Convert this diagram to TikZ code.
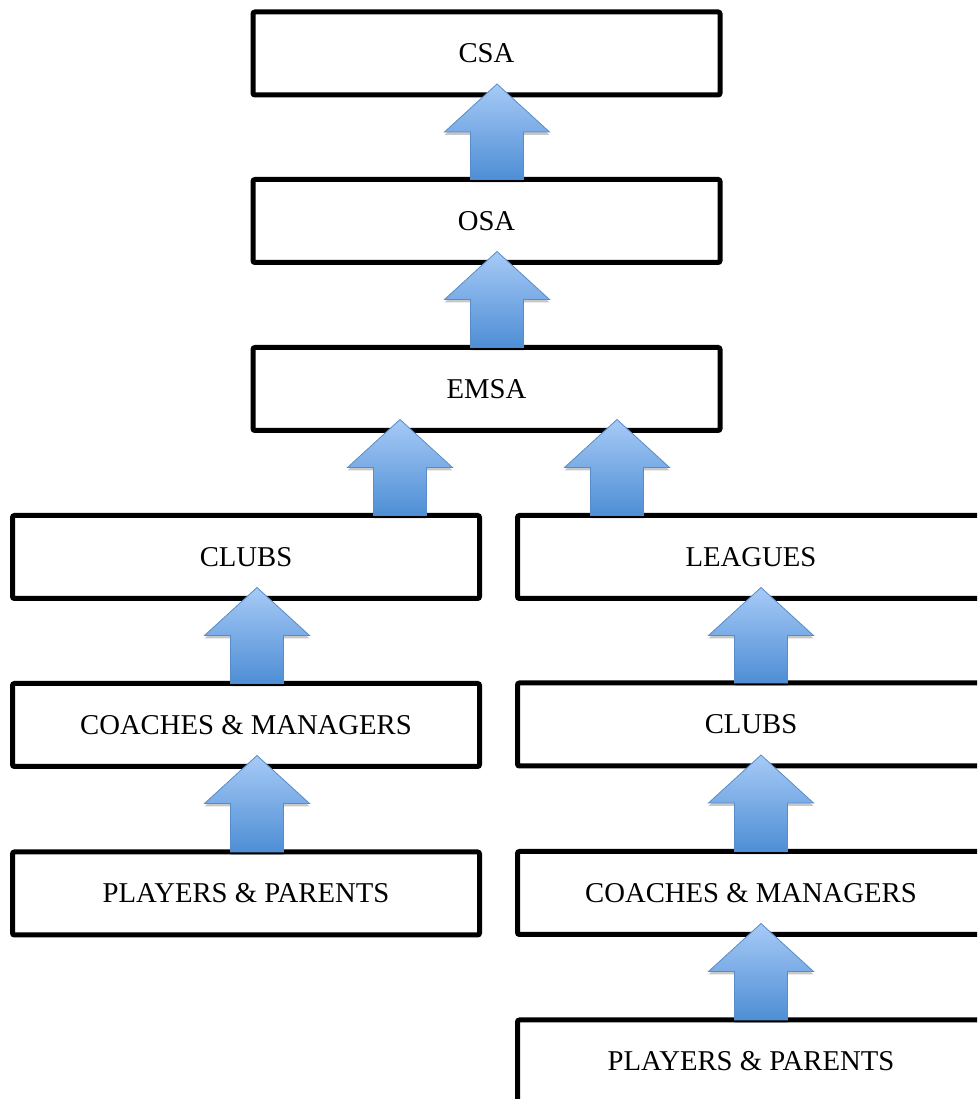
\documentclass[tikz,border=0pt]{standalone}
\usepackage{fontspec}
\setmainfont{Liberation Serif}
\usetikzlibrary{calc,shadows}
\definecolor{arrtop}{RGB}{166,202,246}
\definecolor{arrbot}{RGB}{78,142,213}
\definecolor{arredge}{RGB}{88,140,200}
\tikzset{
  box/.style={draw=black, line width=5pt, rounded corners=2pt, fill=white,
    minimum width=467pt, minimum height=83pt, inner sep=0pt, outer sep=0pt,
    font=\fontsize{28.7}{34}\selectfont},
  uparr/.style={draw=arredge, line width=0.8pt, top color=arrtop, bottom color=arrbot,
    drop shadow={shadow xshift=0pt, shadow yshift=-3pt, opacity=0.22, fill=black}},
}
% #1 lower node, #2 upper node, #3 x position (pt)
\newcommand\blockarrow[3]{%
  \path[uparr] let \p1=(#1.north), \p2=(#2.south) in
    (#3pt-26.5pt,\y1) -- (#3pt-26.5pt,\y2+11pt-48pt) -- (#3pt-52.5pt,\y2+11pt-48pt)
    -- (#3pt,\y2+11pt) -- (#3pt+52.5pt,\y2+11pt-48pt) -- (#3pt+26.5pt,\y2+11pt-48pt)
    -- (#3pt+26.5pt,\y1) -- cycle;}
\begin{document}
\begin{tikzpicture}[x=1pt,y=1pt]
\useasboundingbox (0,0) rectangle (977,1099);
\clip (0,0) rectangle (977,1099);
\node[box] (csa) at (486.5,1045.5) {CSA};
\node[box] (osa) at (486.5,878) {OSA};
\node[box] (emsa) at (486.5,710) {EMSA};
\node[box] (lclubs) at (246,542) {CLUBS};
\node[box] (lcoach) at (246,374) {COACHES \& MANAGERS};
\node[box] (lplay) at (246,205.5) {PLAYERS \& PARENTS};
\node[box] (leagues) at (751,542) {LEAGUES};
\node[box] (rclubs) at (751,374.5) {CLUBS};
\node[box] (rcoach) at (751,206) {COACHES \& MANAGERS};
\node[box] (rplay) at (751,37.5) {PLAYERS \& PARENTS};
\blockarrow{osa}{csa}{497}
\blockarrow{emsa}{osa}{497}
\blockarrow{lclubs}{emsa}{400}
\blockarrow{leagues}{emsa}{617}
\blockarrow{lcoach}{lclubs}{257}
\blockarrow{lplay}{lcoach}{257}
\blockarrow{rclubs}{leagues}{761}
\blockarrow{rcoach}{rclubs}{761}
\blockarrow{rplay}{rcoach}{761}
\end{tikzpicture}
\end{document}
